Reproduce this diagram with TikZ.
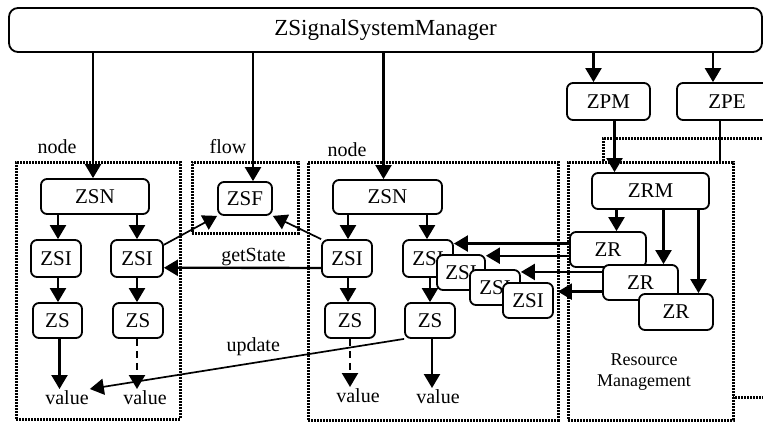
\documentclass[tikz,border=0pt]{standalone}
\usepackage{fontspec}
\setmainfont{Liberation Serif}
\usetikzlibrary{arrows.meta, positioning, calc}

\begin{document}
\begin{tikzpicture}[
        x=1pt, y=-1pt,
        signode/.style={
            draw,
            line width=1.8pt,
            rounded corners=6pt,
            fill=white,
            inner sep=0pt,
            font=\fontsize{21}{25}\selectfont
        },
        groupframe/.style={
            draw,
            line width=3pt,
            dash pattern=on 2pt off 1pt,
            inner sep=0pt
        },
        boxlabel/.style={font=\fontsize{20}{24}\selectfont, inner sep=1pt},
        calllink/.style={-{Triangle[length=14pt, width=16pt]}, line width=2.3pt},
        thinlink/.style={-{Triangle[length=14pt, width=16pt]}, line width=1.7pt},
        valuelink/.style={calllink, dash pattern=on 7pt off 5pt}
    ]
        \clip (0,0) rectangle (763,421);

        % group frames
        \node[groupframe, minimum width=164pt, minimum height=257pt] (nodeframeA) at (98,290.5) {};
        \node[groupframe, minimum width=106pt, minimum height=71pt] (flowframe) at (245,197.5) {};
        \node[groupframe, minimum width=250pt, minimum height=258pt] (nodeframeB) at (433,291) {};
        \node[groupframe, minimum width=172pt, minimum height=259pt] (outerframe) at (689,267.5) {};
        \node[groupframe, fill=white, minimum width=165pt, minimum height=258pt] (rmframe) at (650.5,291) {};

        \node[boxlabel] (nodetagA) at (57,147) {node};
        \node[boxlabel] (flowtag) at (228,147) {flow};
        \node[boxlabel] (nodetagB) at (347,150) {node};
        \node[font=\fontsize{18}{21}\selectfont, align=center] (rmtag) at (644,372) {Resource\\Management};

        % manager and resource side
        \node[signode, minimum width=753pt, minimum height=44pt, rounded corners=9pt,
              font=\fontsize{23}{27}\selectfont] (manager) at (385.5,30) {ZSignalSystemManager};
        \node[signode, minimum width=83pt, minimum height=37pt] (zpm) at (608.5,101.5) {ZPM};
        \node[signode, minimum width=100pt, minimum height=37pt] (zpe) at (727,101.5) {ZPE};
        \node[signode, minimum width=117pt, minimum height=36pt] (zrm) at (650.5,191) {ZRM};
        \node[signode, minimum width=76pt, minimum height=35pt] (zrA) at (608,249.5) {ZR};
        \node[signode, minimum width=75pt, minimum height=35pt] (zrB) at (640.5,282.5) {ZR};
        \node[signode, minimum width=74pt, minimum height=36pt] (zrC) at (676,312) {ZR};

        % first signal node
        \node[signode, minimum width=108pt, minimum height=35pt] (zsnA) at (95,196.5) {ZSN};
        \node[signode, minimum width=50pt, minimum height=37pt] (zsiA) at (56,258.5) {ZSI};
        \node[signode, minimum width=52pt, minimum height=37pt] (zsiB) at (137,258.5) {ZSI};
        \node[signode, minimum width=49pt, minimum height=35pt] (zsA) at (57.5,320.5) {ZS};
        \node[signode, minimum width=50pt, minimum height=35pt] (zsB) at (138,320.5) {ZS};
        \node[boxlabel, anchor=north] (valueA) at (67,389) {value};
        \node[boxlabel, anchor=north] (valueB) at (145,389) {value};

        % flow
        \node[signode, minimum width=54pt, minimum height=33pt] (zsf) at (245,198.5) {ZSF};

        % second signal node
        \node[signode, minimum width=109pt, minimum height=34pt] (zsnB) at (387.5,197) {ZSN};
        \node[signode, minimum width=50pt, minimum height=37pt] (zsiC) at (347,258.5) {ZSI};
        \node[signode, minimum width=50pt, minimum height=37pt] (zsiD) at (428,258.5) {ZSI};
        \node[signode, minimum width=48pt, minimum height=35pt] (zsiE) at (461,272.5) {ZSI};
        \node[signode, minimum width=50pt, minimum height=35pt] (zsiF) at (495,287.5) {ZSI};
        \node[signode, minimum width=50pt, minimum height=35pt] (zsiG) at (528,300.5) {ZSI};
        \node[signode, minimum width=50pt, minimum height=35pt] (zsC) at (350,320.5) {ZS};
        \node[signode, minimum width=50pt, minimum height=35pt] (zsD) at (430,320.5) {ZS};
        \node[boxlabel, anchor=north] (valueC) at (358,387) {value};
        \node[boxlabel, anchor=north] (valueD) at (438,388) {value};

        % manager links
        \draw[calllink] ([xshift=-2pt]zsnA.north |- manager.south) -- ([xshift=-2pt]zsnA.north);
        \draw[calllink] ([xshift=8pt]zsf.north |- manager.south) -- ([xshift=8pt]zsf.north);
        \draw[calllink] ([xshift=-4pt]zsnB.north |- manager.south) -- ([xshift=-4pt]zsnB.north);
        \draw[calllink] ([xshift=-15pt]zpm.north |- manager.south) -- ([xshift=-15pt]zpm.north);
        \draw[calllink] ([xshift=-14pt]zpe.north |- manager.south) -- ([xshift=-14pt]zpe.north);
        \draw[calllink] ([xshift=6pt]zpm.south) -- ([xshift=6pt]zpm.south |- zrm.north);
        \draw[line width=1.7pt] ([xshift=-7pt]zpe.south) -- ([xshift=-7pt]zpe.south |- rmframe.north);

        % inside the signal nodes
        \draw[calllink] ([xshift=2pt]zsiA.north |- zsnA.south) -- ([xshift=2pt]zsiA.north);
        \draw[calllink] (zsiB.north |- zsnA.south) -- (zsiB.north);
        \draw[calllink] ([xshift=2pt]zsiA.south) -- ([xshift=2pt]zsiA.south |- zsA.north);
        \draw[calllink] (zsiB.south) -- (zsiB.south |- zsB.north);
        \draw[calllink] ([xshift=2pt]zsA.south) -- ([xshift=2pt]zsA.south |- valueA.north);
        \draw[valuelink] ([xshift=-1pt]zsB.south) -- ([xshift=-1pt]zsB.south |- valueB.north);

        \draw[calllink] ([xshift=1pt]zsiC.north |- zsnB.south) -- ([xshift=1pt]zsiC.north);
        \draw[calllink] ([xshift=-1pt]zsiD.north |- zsnB.south) -- ([xshift=-1pt]zsiD.north);
        \draw[calllink] ([xshift=1pt]zsiC.south) -- ([xshift=1pt]zsiC.south |- zsC.north);
        \draw[calllink] ([xshift=2pt]zsiD.south) -- ([xshift=2pt]zsiD.south |- zsD.north);
        \draw[valuelink] (zsC.south) -- (zsC.south |- valueC.north);
        \draw[calllink] ([xshift=2pt]zsD.south) -- ([xshift=2pt]zsD.south |- valueD.north);

        % flow, getState and update
        \draw[thinlink] (zsiB.27) -- (zsf.south west);
        \draw[thinlink] (zsiC.north west) -- (zsf.south east);
        \draw[calllink] (zsiC.200) -- node[boxlabel, above, pos=0.43] {getState} (zsiB.-19);
        \draw[thinlink] (zsD.south west) -- node[boxlabel, above=5pt, pos=0.48] {update} (valueA.north east);

        % resource links
        \draw[calllink] ([xshift=-34pt]zrm.south) -- ([xshift=-34pt]zrm.south |- zrA.north);
        \draw[calllink] ([xshift=13pt]zrm.south) -- ([xshift=13pt]zrm.south |- zrB.north);
        \draw[calllink] ([xshift=48pt]zrm.south) -- ([xshift=48pt]zrm.south |- zrC.north);
        \draw[calllink] (zrA.west |- zsiD.30) -- (zsiD.30);
        \draw[calllink] (zrA.west |- zsiE.34) -- (zsiE.34);
        \draw[calllink] (zrB.west |- zsiF.31) -- (zsiF.31);
        \draw[calllink] (zrB.west |- zsiG.19) -- ([xshift=4pt]zsiG.19);
\end{tikzpicture}
\end{document}
